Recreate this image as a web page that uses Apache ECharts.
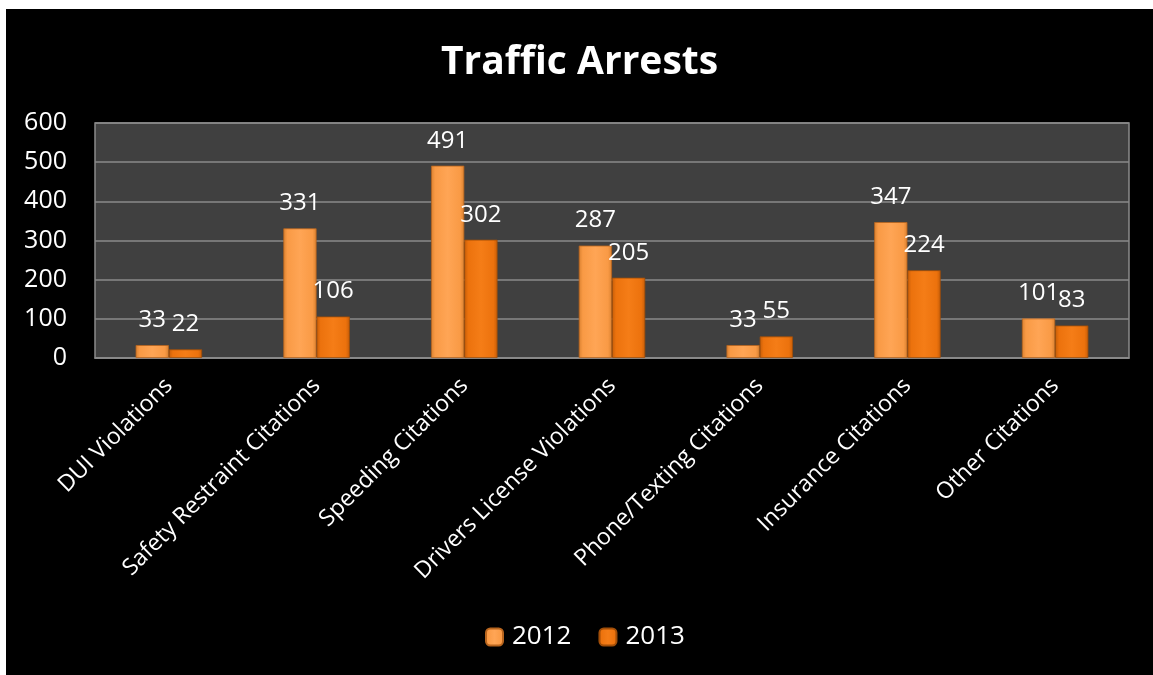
<!DOCTYPE html>
<html>
<head>
<meta charset="utf-8">
<script src="https://cdn.jsdelivr.net/npm/echarts@6/dist/echarts.min.js"></script>
<style>
html,body{margin:0;padding:0;background:#fff;width:1153px;height:675px;overflow:hidden;}
#chart{position:absolute;left:6px;top:9px;width:1147px;height:666px;background:#000;}
</style>
</head>
<body>
<div id="chart"></div>
<script>
var categories = ["DUI Violations","Safety Restraint Citations","Speeding Citations","Drivers License Violations","Phone/Texting Citations","Insurance Citations","Other Citations"];
var values2012 = [33,331,491,287,33,347,101];
var values2013 = [22,106,302,205,55,224,83];
var yTicks = [0,100,200,300,400,500,600];
var seriesNames = ["2012","2013"];

var font = "'Open Sans', 'Noto Sans', sans-serif";
var chart = echarts.init(document.getElementById('chart'));

function grad(light, mid, dark){
  return new echarts.graphic.LinearGradient(0,0,1,0,[
    {offset:0, color:dark},{offset:0.12, color:mid},{offset:0.5, color:light},{offset:0.88, color:mid},{offset:1, color:dark}
  ]);
}
var c2012 = grad('#FFA555','#F99A45','#D9802F');
var c2013 = grad('#F57D17','#EC720D','#C65D08');

chart.setOption({
  backgroundColor:'#000',
  animation:false,
  title:{text:'Traffic Arrests', left:'center', top:29,
    textStyle:{color:'#fff', fontSize:39, fontWeight:'bold', fontFamily:font}},
  legend:{data:seriesNames, bottom:20, left:474, itemWidth:17, itemHeight:17, itemGap:27,
    textStyle:{color:'#fff', fontSize:26, fontFamily:font, padding:[0,0,0,4]}},
  grid:{left:89, top:114, right:24, bottom:317, containLabel:false,
    show:true, backgroundColor:'#404040', borderColor:'#8a8a8a', borderWidth:1.5},
  xAxis:{type:'category', data:categories,
    axisLine:{show:true, lineStyle:{color:'#8a8a8a', width:1.5}},
    axisTick:{show:false},
    axisLabel:{rotate:45, interval:0, color:'#fff', fontSize:23, fontFamily:font, margin:24}},
  yAxis:{type:'value', min:yTicks[0], max:yTicks[yTicks.length-1], interval:100,
    axisLine:{show:false}, axisTick:{show:false},
    splitLine:{lineStyle:{color:'#8a8a8a', width:1.5}},
    axisLabel:{color:'#fff', fontSize:25, fontFamily:font, margin:28}},
  series:[
    {name:seriesNames[0], type:'bar', data:values2012, barWidth:'22.5%', barGap:'0%',
      itemStyle:{color:c2012, borderColor:'#B8651E', borderWidth:0.8},
      label:{show:true, position:'top', distance:13, color:'#fff', fontSize:24, fontFamily:font}},
    {name:seriesNames[1], type:'bar', data:values2013, barWidth:'22.5%',
      itemStyle:{color:c2013, borderColor:'#A24E08', borderWidth:0.8},
      label:{show:true, position:'top', distance:13, color:'#fff', fontSize:24, fontFamily:font}}
  ]
});
</script>
</body>
</html>
